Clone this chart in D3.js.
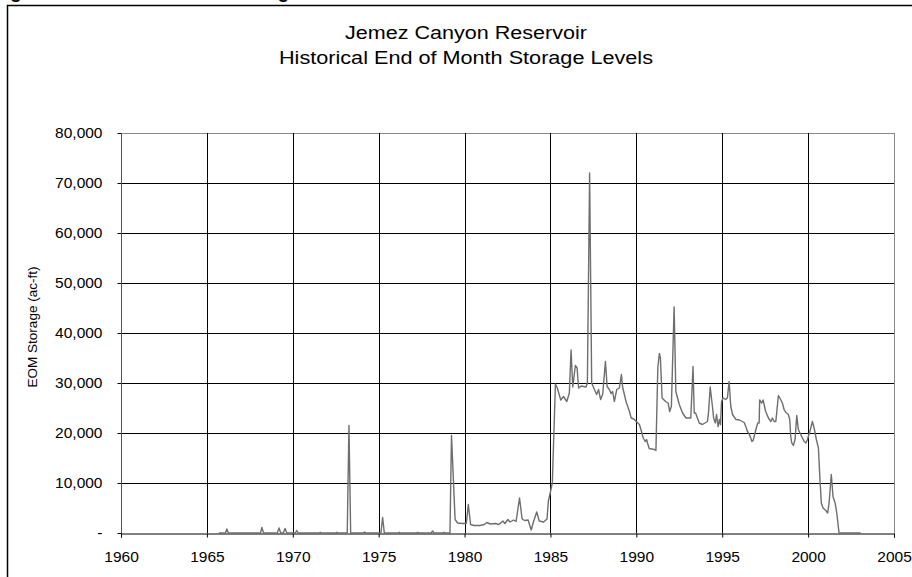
<!DOCTYPE html>
<html>
<head>
<meta charset="utf-8">
<script src="https://cdn.jsdelivr.net/npm/d3@7"></script>
<style>
  body { margin: 0; background: #fff; }
  svg { display: block; font-family: Arial, "Liberation Sans", sans-serif; }
</style>
</head>
<body>
<svg id="chart" width="912" height="577"></svg>
<script>
// end of month storage
var storageDates = [
  1965.70, 1966.08, 1966.16, 1966.25, 1968.12, 1968.20, 1968.30, 1969.10, 1969.20, 1969.30,
  1969.45, 1969.55, 1969.65, 1970.15, 1970.23, 1970.32, 1971.55, 1971.60, 1971.65, 1972.50,
  1972.56, 1972.62, 1973.17, 1973.27, 1973.37, 1974.10, 1974.17, 1974.25, 1975.13, 1975.23,
  1975.33, 1976.15, 1976.20, 1976.25, 1977.20, 1977.27, 1977.35, 1978.05, 1978.14, 1978.22,
  1978.75, 1978.80, 1978.85, 1979.15, 1979.24, 1979.45, 1979.60, 1979.85, 1980.10, 1980.22,
  1980.35, 1980.55, 1980.90, 1981.15, 1981.30, 1981.50, 1981.80, 1982.00, 1982.23, 1982.35,
  1982.52, 1982.65, 1982.85, 1983.00, 1983.20, 1983.35, 1983.50, 1983.70, 1983.88, 1984.00,
  1984.20, 1984.35, 1984.60, 1984.80, 1984.88, 1984.94, 1985.11, 1985.20, 1985.29, 1985.40,
  1985.60, 1985.76, 1985.95, 1986.10, 1986.20, 1986.30, 1986.45, 1986.55, 1986.64, 1986.80,
  1987.07, 1987.15, 1987.28, 1987.40, 1987.56, 1987.69, 1987.80, 1987.92, 1988.04, 1988.20,
  1988.30, 1988.43, 1988.53, 1988.62, 1988.72, 1988.86, 1989.01, 1989.13, 1989.20, 1989.40,
  1989.60, 1989.70, 1989.85, 1990.00, 1990.18, 1990.30, 1990.40, 1990.52, 1990.60, 1990.65,
  1990.75, 1991.05, 1991.14, 1991.25, 1991.34, 1991.40, 1991.50, 1991.70, 1991.85, 1991.94,
  1992.04, 1992.20, 1992.30, 1992.50, 1992.69, 1992.89, 1993.17, 1993.30, 1993.37, 1993.45,
  1993.66, 1993.85, 1994.14, 1994.20, 1994.30, 1994.43, 1994.50, 1994.60, 1994.67, 1994.76,
  1994.84, 1994.90, 1994.96, 1995.05, 1995.20, 1995.30, 1995.40, 1995.50, 1995.60, 1995.80,
  1996.00, 1996.28, 1996.37, 1996.47, 1996.57, 1996.73, 1996.80, 1996.96, 1997.07, 1997.15,
  1997.18, 1997.30, 1997.38, 1997.53, 1997.69, 1997.83, 1997.92, 1998.02, 1998.12, 1998.27,
  1998.40, 1998.50, 1998.60, 1998.70, 1998.85, 1998.93, 1998.99, 1999.05, 1999.14, 1999.24,
  1999.34, 1999.43, 1999.57, 1999.77, 1999.87, 1999.96, 2000.10, 2000.25, 2000.35, 2000.48,
  2000.60, 2000.68, 2000.77, 2000.87, 2001.03, 2001.14, 2001.22, 2001.35, 2001.45, 2001.57,
  2001.67, 2001.80, 2003.06
];
var storageValues = [
  0, 0, 800, 0, 0, 1100, 0, 0, 1000, 0,
  0, 900, 0, 0, 500, 0, 0, 150, 0, 0,
  150, 0, 0, 21500, 0, 0, 200, 0, 0, 3100,
  0, 0, 150, 0, 0, 100, 0, 0, 400, 0,
  0, 150, 0, 0, 19500, 2700, 2000, 1900, 1900, 5700,
  1700, 1500, 1500, 1700, 2100, 1800, 1900, 1700, 2400, 1900,
  2700, 2200, 2600, 2300, 7000, 2800, 2500, 2600, 600, 2100,
  4200, 2400, 2200, 2800, 6400, 7300, 10000, 20000, 29800, 29000,
  26600, 27300, 26300, 28000, 36600, 29200, 33500, 33000, 29000, 29400,
  29200, 30000, 72000, 30000, 28700, 27700, 28700, 26700, 27700, 34300,
  29300, 28700, 27900, 28300, 26300, 28700, 29000, 31700, 29200, 26300,
  24300, 23000, 22800, 22300, 21700, 20300, 19000, 18300, 18700, 18000,
  16900, 16700, 16500, 33000, 35900, 35000, 27000, 26300, 26000, 24300,
  25300, 45200, 28300, 25700, 24000, 23000, 23000, 33300, 24000, 24000,
  22000, 21700, 22300, 24000, 29200, 25300, 23000, 22000, 23700, 21300,
  22700, 21700, 26300, 27000, 26700, 27000, 30300, 25300, 23700, 22700,
  22600, 22100, 21300, 20300, 19800, 18300, 18500, 20700, 22000, 22000,
  26600, 26000, 26600, 24300, 23000, 22300, 23000, 22300, 22300, 27500,
  26700, 26000, 24700, 24100, 23700, 22700, 19300, 18000, 17500, 18700,
  23500, 20700, 19700, 18300, 18000, 18700, 20300, 22300, 21000, 18700,
  17000, 11300, 6000, 5000, 4500, 4000, 6000, 11700, 7300, 6000,
  4000, 0, 0
];
var yearTicks = [1960, 1965, 1970, 1975, 1980, 1985, 1990, 1995, 2000, 2005];
var storageTicks = [0, 10000, 20000, 30000, 40000, 50000, 60000, 70000, 80000];
var titleLines = ["Jemez Canyon Reservoir", "Historical End of Month Storage Levels"];

var svg = d3.select("#chart");
var m = {left: 121, right: 894, top: 133, bottom: 533};

var x = d3.scaleLinear().domain([1960, 2005]).range([m.left, m.right]);
var y = d3.scaleLinear().domain([0, 80000]).range([m.bottom, m.top]);

// caption of the report page, mostly cut off above the picture
var cap = svg.append("text")
  .attr("y", -2)
  .attr("font-size", 19).attr("font-weight", "bold");
cap.append("tspan").attr("x", -7).text("Figure 2-4.  Jemez");
cap.append("tspan").attr("x", 229).text("Storage Levels");

// outer frame, runs off the right and bottom edges
svg.append("rect")
  .attr("x", 7.5).attr("y", 5.5)
  .attr("width", 940).attr("height", 600)
  .attr("fill", "none").attr("stroke", "#000").attr("stroke-width", 1.5);

var titleWidths = [242, 374];
svg.selectAll("text.title")
  .data(titleLines)
  .enter().append("text")
  .attr("class", "title")
  .attr("x", 466)
  .attr("y", function(d, i){ return 39 + i * 25; })
  .attr("text-anchor", "middle")
  .attr("font-size", 17.5)
  .attr("textLength", function(d, i){ return titleWidths[i]; })
  .attr("lengthAdjust", "spacingAndGlyphs")
  .text(function(d){ return d; });

// grid
var g = svg.append("g").attr("shape-rendering", "crispEdges");
g.selectAll("line.hgrid")
  .data(storageTicks.slice(1))
  .enter().append("line")
  .attr("x1", m.left).attr("x2", m.right)
  .attr("y1", function(d){ return Math.round(y(d)) + 0.5; })
  .attr("y2", function(d){ return Math.round(y(d)) + 0.5; })
  .attr("stroke", function(d){ return d == 80000 ? "#888" : "#000"; });
g.selectAll("line.vgrid")
  .data(yearTicks.slice(1))
  .enter().append("line")
  .attr("y1", m.top).attr("y2", m.bottom)
  .attr("x1", function(d){ return Math.round(x(d)) + 0.5; })
  .attr("x2", function(d){ return Math.round(x(d)) + 0.5; })
  .attr("stroke", function(d){ return d == 2005 ? "#888" : "#000"; });

var pts = storageDates.map(function(d, i){ return [d, storageValues[i]]; });
var line = d3.line()
  .x(function(d){ return x(d[0]); })
  .y(function(d){ return y(d[1]); });

// axes
var yAxis = svg.append("g")
  .attr("transform", "translate(" + (m.left + 0.5) + ",0)")
  .call(d3.axisLeft(y).tickValues(storageTicks).tickSize(4).tickPadding(15)
    .tickFormat(function(d){ return d == 0 ? "-" : d3.format(",")(d); }));
var xAxis = svg.append("g")
  .attr("transform", "translate(0," + (m.bottom + 0.5) + ")")
  .call(d3.axisBottom(x).tickValues(yearTicks).tickSize(4).tickPadding(13)
    .tickFormat(d3.format("d")));

[xAxis, yAxis].forEach(function(a){
  a.select(".domain").attr("stroke", "#000");
  a.selectAll("line").attr("stroke", "#000");
  a.selectAll("text").attr("font-size", 15.5).attr("fill", "#000")
    .attr("font-family", "Arial, 'Liberation Sans', sans-serif");
});
yAxis.select(".domain").remove();
yAxis.append("line").attr("y1", m.top).attr("y2", m.bottom)
  .attr("stroke", "#555");

svg.append("path")
  .datum(pts)
  .attr("d", line)
  .attr("fill", "none")
  .attr("stroke", "#6e6e6e")
  .attr("stroke-width", 1.4)
  .attr("stroke-linejoin", "round");

svg.append("text")
  .attr("transform", "translate(37,327) rotate(-90)")
  .attr("text-anchor", "middle")
  .attr("font-size", 13.5)
  .text("EOM Storage (ac-ft)");
</script>
</body>
</html>
